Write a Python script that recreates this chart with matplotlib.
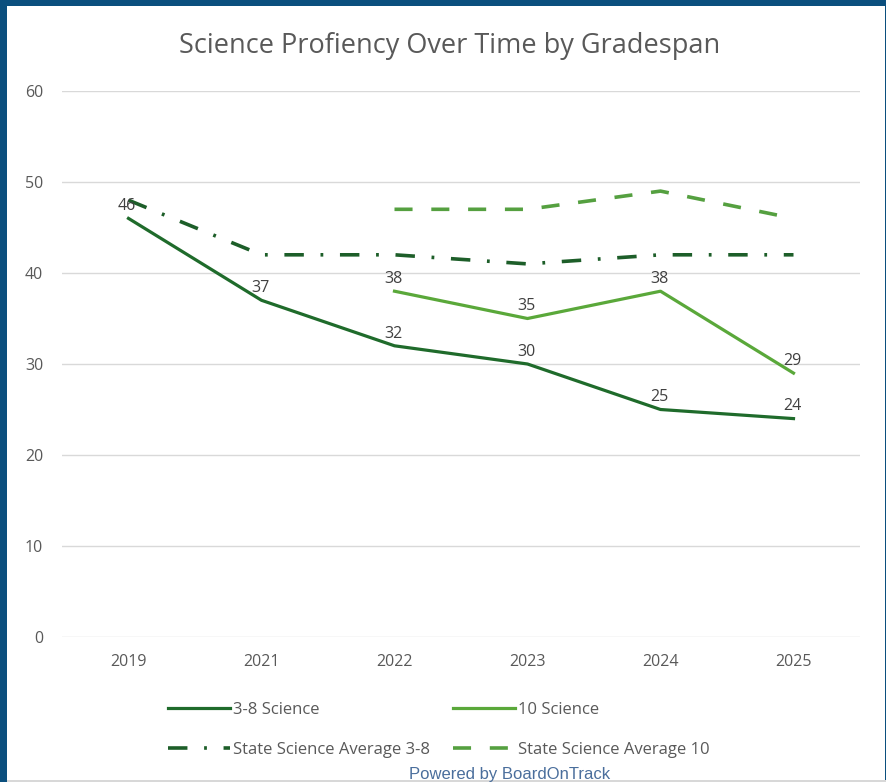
import matplotlib
matplotlib.use("Agg")
import matplotlib.pyplot as plt
from matplotlib.patches import Rectangle
import numpy as np

years = ["2019", "2021", "2022", "2023", "2024", "2025"]
sci_38 = [46, 37, 32, 30, 25, 24]
sci_10 = [None, None, 38, 35, 38, 29]
state_38 = [48, 42, 42, 41, 42, 42]
state_10 = [None, None, 47, 47, 49, 46]
yticks = [0, 10, 20, 30, 40, 50, 60]

plt.rcParams['font.family'] = ['Open Sans', 'DejaVu Sans']
plt.rcParams['lines.scale_dashes'] = False

W, H = 887, 782
fig = plt.figure(figsize=(W / 100, H / 100), dpi=100)
fig.patch.set_facecolor('#0b4f7e')
fig.patches.append(Rectangle((7 / W, 2 / H), (885 - 7) / W, (776 - 2) / H,
                             transform=fig.transFigure, facecolor='white',
                             edgecolor='none', zorder=-10))
fig.patches.append(Rectangle((7 / W, 0), (887 - 7) / W, 2 / H,
                             transform=fig.transFigure, facecolor='#d8d8d8',
                             edgecolor='none', zorder=-10))

ax = fig.add_axes([62 / W, 1 - 637 / H, (860 - 62) / W, (637 - 91) / H])
ax.set_facecolor('none')
x = np.arange(len(years))


def arr(v):
    return np.array([np.nan if a is None else a for a in v], dtype=float)


c38 = '#1f6b2b'
c10 = '#5aa83a'
cs38 = '#1d5e29'
cs10 = '#55a040'

l1, = ax.plot(x, arr(sci_38), color=c38, lw=2.3, label='3-8 Science', zorder=3)
l2, = ax.plot(x, arr(sci_10), color=c10, lw=2.3, label='10 Science', zorder=3)
l3, = ax.plot(x, arr(state_38), color=cs38, lw=2.6, label='State Science Average 3-8',
              linestyle=(0, (14, 12, 2, 12)), zorder=3)
l4, = ax.plot(x, arr(state_10), color=cs10, lw=2.6, label='State Science Average 10',
              linestyle=(0, (13, 13.5)), zorder=3)

for series in (sci_38, sci_10):
    for xi, v in zip(x, series):
        if v is None:
            continue
        ax.annotate(str(v), (xi, v), xytext=(-1, 3), textcoords='offset points',
                    ha='center', va='bottom', fontsize=11.5, color='#404040', zorder=4)

ax.set_ylim(0, 60)
ax.set_xlim(-0.5, 5.5)
ax.set_yticks(yticks)
ax.set_xticks(x)
ax.set_xticklabels(years)
ax.grid(axis='y', color='#d9d9d9', lw=1)
ax.set_axisbelow(True)
for s in ax.spines.values():
    s.set_visible(False)
ax.tick_params(length=0, colors='#595959', labelsize=11.5)
ax.tick_params(axis='y', pad=13.5)
ax.tick_params(axis='x', pad=12.5)

fig.text(450 / W, 1 - 46 / H, 'Science Profiency Over Time by Gradespan',
         ha='center', va='center', fontsize=19.5, color='#595959')

leg = fig.legend([l1, l3, l2, l4], [l.get_label() for l in (l1, l3, l2, l4)],
                 loc='center', bbox_to_anchor=(439 / W, 1 - 730 / H), ncol=2,
                 frameon=False, handlelength=3.7, handletextpad=0.18,
                 columnspacing=1.4, labelspacing=1.4, labelcolor='#595959',
                 prop={'family': ['Open Sans', 'DejaVu Sans'], 'size': 12})

fig.text(510 / W, 1 - 774 / H, 'Powered by BoardOnTrack', ha='center', va='center',
         fontsize=12, color='#4a6e9c', family=['Liberation Sans', 'DejaVu Sans'])

fig.savefig('out.png', dpi=100, facecolor=fig.get_facecolor())
